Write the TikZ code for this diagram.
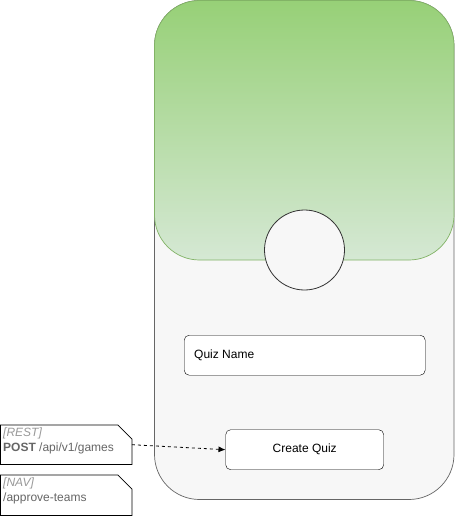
\documentclass[tikz,border=0pt]{standalone}
\usepackage{fontspec}
\setmainfont{Liberation Sans}
\usetikzlibrary{arrows.meta}
\definecolor{phonefill}{HTML}{F7F7F7}
\definecolor{phoneline}{HTML}{666666}
\definecolor{greentop}{HTML}{97D077}
\definecolor{greenbot}{HTML}{D5E8D4}
\definecolor{greenline}{HTML}{82B366}
\definecolor{notegrey}{HTML}{666666}
\definecolor{tagcol}{HTML}{999999}
\tikzset{
  field/.style={draw=black, fill=white, rounded corners=5pt, minimum height=40pt, inner sep=0pt, font=\fontsize{12}{14}\selectfont},
  notebox/.style={minimum width=131pt, minimum height=39pt, inner sep=0pt},
  noteline/.style={draw=black, fill=white, line width=0.8pt},
  notetext/.style={anchor=north west, inner sep=0pt, align=left, font=\fontsize{12}{15}\selectfont, text=notegrey},
}
\begin{document}
\begin{tikzpicture}[x=1pt,y=-1pt]
\useasboundingbox (0,0) rectangle (455,516);
% phone body
\path[draw=phoneline, fill=phonefill, rounded corners=45pt, line width=0.7pt] (154.5,0.5) rectangle (454,499.5);
\node[inner sep=0pt, minimum width=300pt, minimum height=500pt] (phone) at (304.25,250) {};
% green header
\path[draw=greenline, top color=greentop, bottom color=greenbot, rounded corners=45pt, line width=0.7pt] (154.5,0.5) rectangle (454,260);
\node[inner sep=0pt, minimum width=300pt, minimum height=260pt] (header) at (304.25,130) {};
% avatar circle
\node[circle, draw=black!80, fill=phonefill, minimum size=80pt, inner sep=0pt, line width=0.8pt] (avatar) at (304.5,250) {};
% fields
\node[field, minimum width=241pt, anchor=north west] (quizname) at (184,335) {};
\node[anchor=west, inner sep=0pt, font=\fontsize{12}{14}\selectfont] (qnlabel) at (194,355.5) {Quiz Name};
\node[field, minimum width=158pt, anchor=north west] (create) at (225.5,429.5) {Create Quiz};
% notes
\node[notebox, anchor=north west] (rest) at (0.5,425) {};
\path[noteline] (rest.north west) -- ([xshift=-14pt]rest.north east) -- ([yshift=-14pt]rest.north east) -- (rest.south east) -- (rest.south west) -- cycle;
\node[notetext] (resttext) at ([xshift=2.5pt,yshift=-3pt]rest.north west) {{\color{tagcol}\itshape [REST]}\\\textbf{POST} /api/v1/games};
\node[notebox, anchor=north west, minimum height=40pt] (nav) at (0.5,475) {};
\path[noteline] (nav.north west) -- ([xshift=-14pt]nav.north east) -- ([yshift=-14pt]nav.north east) -- (nav.south east) -- (nav.south west) -- cycle;
\node[notetext] (navtext) at ([xshift=2.5pt,yshift=-3pt]nav.north west) {{\color{tagcol}\itshape [NAV]}\\/approve-teams};
% connector
\draw[dashed, line width=0.8pt, -{Latex[length=7pt,width=6pt]}] (rest.east) -- (create.west);
\end{tikzpicture}
\end{document}
